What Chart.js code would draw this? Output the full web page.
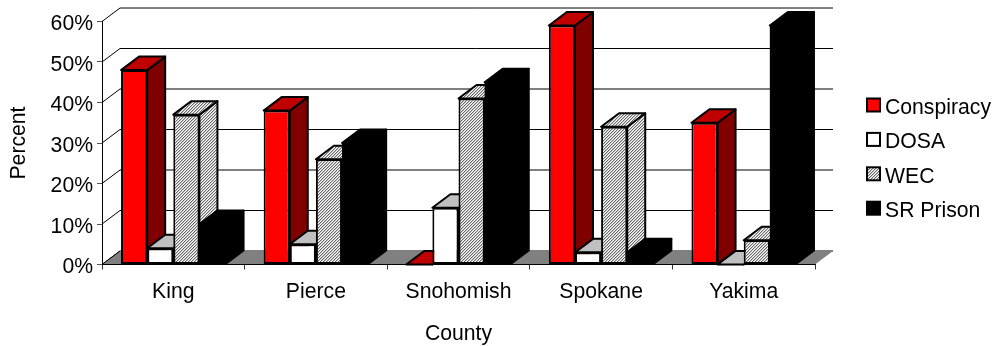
<!DOCTYPE html>
<html>
<head>
<meta charset="utf-8">
<style>
  html, body { margin: 0; padding: 0; background: #fff; }
  canvas { display: block; }
</style>
<script src="https://cdn.jsdelivr.net/npm/chart.js@4"></script>
</head>
<body>
<canvas id="countyChart" width="995" height="346"></canvas>
<script>
// --- Data ---
const categories = ['King', 'Pierce', 'Snohomish', 'Spokane', 'Yakima'];
const seriesNames = ['Conspiracy', 'DOSA', 'WEC', 'SR Prison'];
const conspiracy = [48, 38, 0, 59, 35];
const dosa = [4, 5, 14, 3, 0];
const wec = [37, 26, 41, 34, 6];
const srPrison = [10, 30, 45, 3, 59];

// Oblique offset of the bar depth and of the floor / back wall
const DEPTH_X = 18;
const DEPTH_Y = 13.5;
const FONT = '"Liberation Sans", Arial, sans-serif';
const FONT_SIZE = 21.2;

// Diagonal hatch used by the WEC bars
function makeHatch() {
  const c = document.createElement('canvas');
  c.width = 3;
  c.height = 3;
  const g = c.getContext('2d');
  g.fillStyle = '#ffffff';
  g.fillRect(0, 0, 3, 3);
  g.fillStyle = '#686868';
  for (let i = 0; i < 3; i++) g.fillRect(i, 2 - i, 1, 1);
  g.fillStyle = '#c4c4c4';
  for (let i = 0; i < 3; i++) g.fillRect((i + 1) % 3, 2 - i, 1, 1);
  return g.createPattern(c, 'repeat');
}
const hatch = makeHatch();

const frontFill = ['#ff0000', '#ffffff', hatch, '#000000'];
const topFill = ['#c00000', '#c0c0c0', hatch, '#000000'];
const sideFill = ['#800000', '#808080', hatch, '#000000'];
// black bars need no outline, it only leaves a seam around the fill
const frontBorder = [2, 2, 2, 0];

function face(ctx, pts, fill) {
  ctx.beginPath();
  pts.forEach((p, i) => i ? ctx.lineTo(p[0], p[1]) : ctx.moveTo(p[0], p[1]));
  ctx.closePath();
  ctx.fillStyle = fill;
  ctx.fill();
  ctx.stroke();
}

function line(ctx, x0, y0, x1, y1, color) {
  ctx.beginPath();
  ctx.moveTo(x0, y0);
  ctx.lineTo(x1, y1);
  ctx.strokeStyle = color;
  ctx.stroke();
}

// Back wall, left wall and floor
function drawWalls(chart) {
  const ctx = chart.ctx;
  const area = chart.chartArea;
  const y = chart.scales.y;
  const floorY = y.getPixelForValue(0);
  ctx.save();
  ctx.lineWidth = 1;
  y.ticks.forEach(t => {
    const py = y.getPixelForValue(t.value);
    line(ctx, area.left + DEPTH_X, py - DEPTH_Y, area.right + DEPTH_X, py - DEPTH_Y, '#000000');
    line(ctx, area.left, py, area.left + DEPTH_X, py - DEPTH_Y, '#000000');
  });
  ctx.beginPath();
  ctx.moveTo(area.left, floorY);
  ctx.lineTo(area.left + DEPTH_X, floorY - DEPTH_Y);
  ctx.lineTo(area.right + DEPTH_X, floorY - DEPTH_Y);
  ctx.lineTo(area.right, floorY);
  ctx.closePath();
  ctx.fillStyle = '#808080';
  ctx.fill();
  line(ctx, area.left, floorY, area.left + DEPTH_X, floorY - DEPTH_Y, '#000000');
  line(ctx, area.left, floorY, area.right, floorY, '#000000');
  ctx.restore();
}

// Side and top of one bar; the front is the library's own bar element
function drawBar(chart, datasetIndex, bar) {
  const ctx = chart.ctx;
  const p = bar.getProps(['x', 'y', 'base', 'width'], true);
  const l = p.x - p.width / 2;
  const r = p.x + p.width / 2;
  ctx.save();
  ctx.strokeStyle = '#000000';
  ctx.lineWidth = 2;
  ctx.lineJoin = 'round';
  face(ctx, [[r, p.y], [r + DEPTH_X, p.y - DEPTH_Y], [r + DEPTH_X, p.base - DEPTH_Y], [r, p.base]], sideFill[datasetIndex]);
  face(ctx, [[l, p.y], [l + DEPTH_X, p.y - DEPTH_Y], [r + DEPTH_X, p.y - DEPTH_Y], [r, p.y]], topFill[datasetIndex]);
  ctx.restore();
  bar.draw(ctx, chart.chartArea);
}

const bars3d = {
  id: 'bars3d',
  beforeDatasetsDraw(chart) {
    drawWalls(chart);
    // painter's order: left to right across the groups, not dataset by dataset
    categories.forEach((_, i) => {
      chart.data.datasets.forEach((ds, d) => drawBar(chart, d, chart.getDatasetMeta(d).data[i]));
    });
    return false;
  }
};

// Legend column to the right of the plot
const sideLegend = {
  id: 'sideLegend',
  afterDraw(chart) {
    const ctx = chart.ctx;
    const x = 866, box = 15, step = 34.4;
    ctx.save();
    ctx.font = FONT_SIZE + 'px ' + FONT;
    ctx.textBaseline = 'middle';
    ctx.textAlign = 'left';
    chart.data.datasets.forEach((ds, i) => {
      const y = 97.5 + i * step;
      ctx.fillStyle = '#000000';
      ctx.fillRect(x, y, box, box);
      ctx.fillStyle = ds.backgroundColor;
      ctx.fillRect(x + 2, y + 2, box - 4, box - 4);
      ctx.fillStyle = '#000000';
      ctx.fillText(ds.label, x + 19, y + box / 2 + 3);
    });
    ctx.restore();
  }
};

const datasets = [conspiracy, dosa, wec, srPrison].map((values, i) => ({
  label: seriesNames[i],
  data: values,
  backgroundColor: frontFill[i],
  borderColor: '#000000',
  borderWidth: frontBorder[i],
  borderSkipped: false,
  categoryPercentage: 0.733,
  barPercentage: 1
}));

new Chart(document.getElementById('countyChart'), {
  type: 'bar',
  data: { labels: categories, datasets },
  plugins: [bars3d, sideLegend],
  options: {
    responsive: false,
    animation: false,
    layout: { padding: { left: 0, right: 180, top: 21.5, bottom: 0 } },
    font: { family: FONT },
    plugins: {
      legend: { display: false },
      tooltip: { enabled: false }
    },
    scales: {
      x: {
        afterFit: s => { s.height = 81.5; },
        grid: { drawOnChartArea: false, tickLength: 5, tickColor: '#333333', lineWidth: 1 },
        border: { color: '#000000' },
        ticks: { color: '#000000', padding: 10, maxRotation: 0, font: { family: FONT, size: FONT_SIZE } },
        title: {
          display: true,
          text: 'County',
          color: '#000000',
          padding: { top: 0, bottom: -1 },
          font: { family: FONT, size: FONT_SIZE }
        }
      },
      y: {
        min: 0,
        max: 60,
        afterFit: s => { s.width = 102; },
        grid: { drawOnChartArea: false, tickLength: 5, tickColor: '#555555', lineWidth: 1 },
        border: { color: '#000000' },
        ticks: {
          stepSize: 10,
          color: '#000000',
          padding: 4,
          labelOffset: 3,
          font: { family: FONT, size: FONT_SIZE },
          callback: v => v + '%'
        },
        title: {
          display: true,
          text: 'Percent',
          color: '#000000',
          padding: { top: 6, bottom: 0 },
          font: { family: FONT, size: FONT_SIZE }
        }
      }
    }
  }
});
</script>
</body>
</html>
